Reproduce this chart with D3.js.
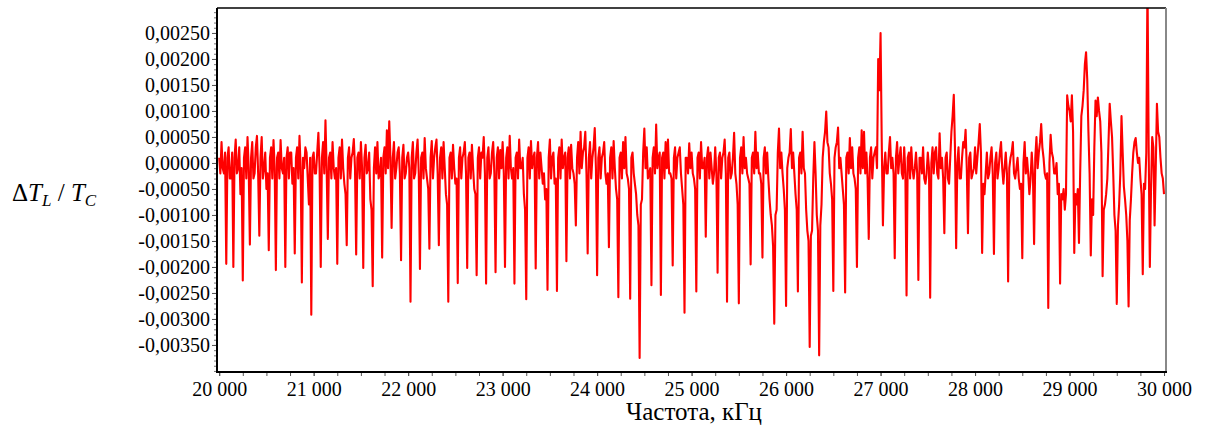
<!DOCTYPE html>
<meta charset="utf-8">

<!-- Load d3.js -->
<script src="https://d3js.org/d3.v7.min.js"></script>

<style>
  body { margin: 0; background: #fff; }
  text { font-family: "Liberation Serif", "Times New Roman", serif; fill: #000; }
</style>

<svg id="chart" width="1208" height="428"></svg>

<script>

// Spectrum sampled every 12.5 kHz from 20 000 kHz
const freqStart = 20000, freqStep = 12.5;

// dT_L / T_C, one array per 1000 kHz
const seg20 = [0.0001, -0.0002, 0.0004, -0.0001, -0.0002, 0.0002, -0.00194, 0.0001, 0.0003, -0.0003,
  -0.0003, 0.0002, -0.0020, 0.0001, 0.00045, -0.0002, -0.0001, 0.0003, -0.0006, -0.0001,
  -0.00226, 0.0001, 0.0003, -0.0003, 0.0005, -0.0001, -0.00157, 0.0001, 0.0004, -0.0003,
  -0.0002, 0.0003, 0.00052, -0.0002, -0.0014, 0.0001, 0.0005, -0.0003, -0.0001, 0.0002,
  -0.0005, -0.0002, -0.00168, 0.0001, 0.0003, -0.0003, 0.00044, -0.0001, -0.00206, 0.0001,
  0.0002, -0.0003, 0.00044, -0.0001, -0.0002, 0.0001, -0.0020, 0.0001, 0.0003, -0.0003,
  0.0002, 0.0002, -0.0004, -0.0001, -0.00174, 0.0001, 0.0003, -0.0003, 0.00052, -0.0001,
  -0.0023, 0.0001, -0.0001, 0.0003, 0.0002, -0.0003, -0.0008, 0.0001, -0.00292, 0.0001];
const seg21 = [0.0002, -0.0002, -0.0002, 0.0002, 0.00058, -0.0001, -0.0020, 0.0001, 0.0004, -0.0002,
  0.00082, -0.0001, -0.00146, 0.0001, 0.0002, -0.0003, 0.0004, -0.0001, -0.0003, -0.0001,
  -0.00194, 0.0001, 0.0003, -0.0003, 0.00045, -0.0001, -0.0004, -0.0006, -0.00158, 0.0001,
  0.0003, -0.0003, 0.0001, 0.0002, 0.00046, -0.0001, -0.00176, 0.0001, 0.0002, -0.0003,
  0.0004, -0.0001, -0.00202, 0.0001, 0.00035, -0.0002, -0.0001, 0.0002, -0.0007, -0.0009,
  -0.00237, -0.0001, 0.0003, -0.0002, 0.0004, -0.0003, -0.0002, 0.0001, -0.00182, 0.0001,
  0.0003, -0.0002, 0.00063, -0.0001, 0.0008, 0.0001, -0.00125, 0.0001, 0.0004, -0.0003,
  -0.0001, 0.0002, 0.0003, -0.0002, -0.00187, 0.0001, 0.00035, -0.0003, -0.0002, 0.0001];
const seg22 = [0.0002, -0.0001, -0.00267, 0.0001, 0.0004, -0.0003, -0.0002, 0.0002, 0.00045, -0.0002,
  -0.00204, 0.0001, 0.0002, -0.0003, 0.00048, -0.0001, -0.0003, -0.0005, -0.00165, 0.0001,
  0.00042, -0.0003, 0.0001, 0.0003, 0.00045, -0.0002, -0.00158, 0.0001, 0.0003, -0.0003,
  0.0004, -0.0001, -0.0006, -0.0008, -0.00267, 0.0001, 0.0002, -0.0003, 0.00035, -0.0001,
  -0.0004, -0.0003, -0.00231, 0.0001, 0.0003, -0.0003, 0.0001, 0.0002, 0.0004, -0.0002,
  -0.00202, 0.0001, 0.0002, -0.0003, 0.00035, -0.0001, -0.0005, -0.0006, -0.00216, 0.0001,
  0.0003, -0.0003, 0.0002, 0.0001, 0.0005, -0.0002, -0.00232, 0.0001, 0.0003, -0.0003,
  -0.0002, 0.0002, 0.0004, -0.0002, -0.0021, 0.0001, 0.0003, -0.0003, 0.00025, -0.0001];
const seg23 = [0.0004, -0.0002, -0.0020, 0.0001, 0.0003, -0.0003, 0.00052, -0.0001, -0.0003, -0.0001,
  -0.00232, 0.0001, 0.0002, -0.0003, 0.00045, -0.0001, -0.0001, 0.0001, -0.0006, -0.0009,
  -0.00262, 0.0001, 0.0003, -0.0003, 0.00042, -0.0001, 0.0001, 0.0002, -0.00203, 0.0001,
  0.0004, -0.0003, 0.0002, -0.0001, -0.0004, -0.0002, -0.0007, -0.0005, -0.00244, 0.0001,
  0.00045, -0.0003, 0.0001, 0.0002, -0.0004, -0.0003, -0.00246, 0.0001, 0.0003, -0.0003,
  0.00045, -0.0001, 0.0001, 0.0002, -0.00189, 0.0001, 0.0003, -0.0003, 0.00035, -0.0001,
  -0.0002, -0.0004, -0.0012, 0.0001, 0.0004, -0.0002, 0.0006, -0.0001, 0.0002, 0.0003,
  0.0006, -0.0002, -0.00174, 0.0001, 0.0004, -0.0003, 0.0001, 0.0003, 0.00067, -0.0001];
const seg24 = [-0.00216, 0.0001, 0.0003, -0.0003, 0.0001, 0.0002, 0.0004, -0.0002, -0.0004, -0.0002,
  -0.00162, 0.0001, 0.0003, -0.0003, 0.00042, -0.0001, -0.0005, -0.0007, -0.00258, 0.0001,
  0.0002, -0.0003, 0.0004, -0.0001, 0.0005, -0.0002, -0.0003, -0.0005, -0.00261, 0.0001,
  0.0002, -0.0002, -0.0004, -0.0006, -0.0010, -0.0012, -0.00375, -0.0008, -0.0007, 0.0002,
  0.00066, -0.0001, 0.0003, -0.0003, -0.0002, -0.0001, -0.00235, 0.0001, 0.0003, -0.0002,
  0.00074, -0.0001, 0.0001, 0.0002, -0.00254, 0.0001, 0.0002, -0.0003, 0.0004, -0.0001,
  0.00045, -0.0002, -0.0002, -0.0003, -0.00197, 0.0001, 0.0003, -0.0003, 0.0001, 0.0002,
  0.0003, -0.0002, -0.0005, -0.0008, -0.00288, 0.0001, 0.0001, -0.0002, 0.00038, -0.0001];
const seg25 = [0.0002, -0.0002, -0.0003, -0.0005, -0.00247, 0.0001, 0.0002, -0.0003, 0.0004, -0.0001,
  -0.0001, 0.0001, -0.00142, 0.0001, 0.0003, -0.0003, 0.0002, -0.0001, -0.0004, -0.0002,
  0.0003, -0.0002, -0.00211, 0.0001, 0.0002, -0.0003, 0.0001, 0.0002, 0.00045, -0.0002,
  -0.00267, 0.0001, 0.0002, -0.0003, -0.0002, 0.0001, 0.00058, -0.0002, -0.0004, -0.0008,
  -0.0027, 0.0001, 0.0003, -0.0002, 0.0005, -0.0001, 0.0001, -0.0002, -0.0003, -0.0004,
  -0.00195, 0.0001, 0.0002, -0.0002, 0.0006, -0.0001, 0.0002, -0.0002, -0.0002, -0.0004,
  -0.00182, 0.0001, 0.0003, -0.0002, 0.0002, -0.0003, -0.0007, -0.0010, -0.0012, -0.0016,
  -0.00309, -0.0010, -0.0009, 0.0002, 0.00066, -0.0001, 0.0002, -0.0002, -0.0005, -0.0009];
const seg26 = [-0.00275, -0.0001, 0.0001, 0.0002, 0.00065, -0.0001, 0.0002, -0.0002, -0.0006, -0.0009,
  -0.00247, 0.0001, 0.0002, -0.0002, 0.0006, -0.0001, -0.0002, -0.0009, -0.0013, -0.0015,
  -0.00354, -0.0014, -0.0013, -0.0003, 0.0004, -0.0002, -0.0010, -0.0013, -0.0037, -0.0012,
  -0.0008, 0.0001, 0.0004, 0.0006, 0.00099, 0.0004, 0.0003, -0.0002, -0.0004, -0.0007,
  -0.00246, 0.0001, 0.0003, 0.0004, 0.00068, -0.0001, 0.0001, -0.0002, -0.0005, -0.0008,
  -0.00249, 0.0001, 0.0002, -0.0002, 0.00048, -0.0001, 0.0003, -0.0002, -0.0003, -0.0005,
  -0.0020, 0.0001, 0.0003, -0.0002, 0.00063, -0.0001, 0.0006, -0.0002, 0.0002, -0.0003,
  -0.00146, 0.0001, 0.0003, -0.0003, 0.0001, 0.0002, 0.0003, -0.0001, 0.0020, 0.0014];
const seg27 = [0.0025, 0.0004, -0.0012, -0.0001, 0.0002, -0.0002, -0.0002, 0.0002, 0.0005, -0.0001,
  0.0001, -0.0002, -0.00183, 0.0001, 0.0004, -0.0002, 0.0001, 0.0003, -0.0002, -0.0003,
  0.0003, -0.0002, -0.00255, 0.0001, 0.0002, -0.0003, 0.0003, -0.0001, -0.0003, -0.0001,
  0.0002, -0.0002, -0.00225, 0.0001, 0.0001, -0.0002, 0.0003, -0.0003, -0.0004, -0.0002,
  0.0002, -0.0001, -0.00259, 0.0, 0.0003, -0.0002, 0.0002, 0.0003, -0.0002, -0.0003,
  0.00057, -0.0001, 0.0001, -0.0003, -0.00135, 0.0001, 0.0002, -0.0003, -0.0004, 0.0001,
  0.0006, 0.0009, 0.00131, 0.0003, -0.00164, 0.0, 0.0003, -0.0003, -0.0003, 0.0001,
  0.0004, 0.0003, 0.00064, -0.0001, -0.00135, 0.0001, 0.0002, -0.0003, -0.0002, -0.0001];
const seg28 = [0.0003, -0.0002, 0.0001, 0.0004, 0.00075, 0.0002, -0.00173, -0.0004, -0.0006, -0.0002,
  0.0002, -0.0003, -0.0002, 0.0001, 0.0003, -0.0002, -0.00175, 0.0, 0.0002, -0.0003,
  -0.0001, 0.0002, 0.0004, -0.0001, -0.0004, -0.0001, 0.0002, -0.0002, -0.00228, -0.0001,
  0.0001, 0.0002, 0.0004, -0.0002, -0.0003, -0.0001, 0.0001, -0.0003, -0.0005, -0.0004,
  -0.00183, 0.0, 0.0004, -0.0002, 0.0001, -0.0002, -0.0006, -0.0003, 0.0002, -0.0002,
  -0.00156, 0.0001, 0.0005, -0.0001, 0.0002, 0.0004, 0.00075, 0.0003, 0.0001, -0.0002,
  -0.0003, -0.0002, -0.00279, 0.0, 0.00054, 0.0002, 0.0001, -0.0002, -0.0002, 0.0,
  -0.0006, -0.0004, -0.00232, -0.0006, -0.0007, -0.0005, -0.0009, -0.0006, 0.0013, 0.0011];
const seg29 = [0.0010, 0.0008, 0.0013, 0.0006, -0.00173, -0.0006, -0.0008, -0.0005, -0.00154, -0.0002,
  0.0009, 0.0011, 0.0014, 0.0019, 0.00213, 0.0016, 0.0006, -0.0002, -0.00178, -0.0007,
  -0.0010, 0.0003, 0.0012, 0.0009, 0.00126, 0.0010, 0.0008, 0.0002, -0.00218, -0.0009,
  -0.0008, -0.0006, -0.0003, 0.0004, 0.00114, 0.0008, 0.0005, -0.0002, -0.0010, -0.0013,
  -0.00271, -0.0012, -0.0008, -0.0002, 0.0009, 0.0002, -0.00045, -0.0007, -0.0010, -0.0015,
  -0.00276, -0.0011, -0.0007, -0.0002, 0.0002, 0.0004, 0.00048, 0.0002, 0.0, 0.0001,
  -0.0003, -0.0006, -0.00214, -0.0004, -0.0005, 0.0002, 0.0035, 0.0003, -0.0020, -0.0005,
  0.0005, 0.0003, -0.0012, -0.0001, 0.00114, 0.0006, 0.0005, 0.0001, -0.0002, -0.0003,
  -0.0006];

const yTicks = [-0.0035, -0.003, -0.0025, -0.002, -0.0015, -0.001, -0.0005, 0, 0.0005, 0.001, 0.0015, 0.002, 0.0025];
const xTicks = [20000, 21000, 22000, 23000, 24000, 25000, 26000, 27000, 28000, 29000, 30000];

const svg = d3.select("#chart");

// plot frame
const pLeft = 217, pRight = 1166, pTop = 8, pBottom = 372;

const x = d3.scaleLinear().domain([19977, 30021]).range([pLeft, pRight]);
const y = d3.scaleLinear().domain([-0.00402, 0.00298]).range([pBottom, pTop]);

const values = [].concat(seg20, seg21, seg22, seg23, seg24, seg25, seg26, seg27, seg28, seg29);
const data = values.map((v, i) => ({ f: freqStart + i * freqStep, v: v }));

// clip the trace to the frame
svg.append("clipPath").attr("id", "plotclip")
  .append("rect")
  .attr("x", pLeft).attr("y", pTop)
  .attr("width", pRight - pLeft).attr("height", pBottom - pTop);

const line = d3.line()
  .x(d => x(d.f))
  .y(d => y(d.v));

svg.append("path")
  .datum(data)
  .attr("clip-path", "url(#plotclip)")
  .attr("fill", "none")
  .attr("stroke", "#ff0000")
  .attr("stroke-width", 2.1)
  .attr("stroke-linejoin", "round")
  .attr("d", line);

// y axis, minor then major ticks
const fmtY = d => d3.format(".5f")(d).replace("−", "-").replace(".", ",");

svg.append("g")
  .attr("transform", `translate(${pLeft},0)`)
  .call(d3.axisLeft(y).tickValues(d3.range(-40, 30).map(k => k / 10000)).tickSize(3).tickFormat(""))
  .call(g => g.select(".domain").remove())
  .call(g => g.selectAll("line").attr("stroke", "#777"));

svg.append("g")
  .attr("transform", `translate(${pLeft},0)`)
  .call(d3.axisLeft(y).tickValues(yTicks).tickSizeInner(5).tickSizeOuter(0).tickPadding(2).tickFormat(fmtY))
  .call(g => g.select(".domain").remove())
  .call(g => g.selectAll("line").attr("stroke", "#555"))
  .call(g => g.selectAll("text").attr("font-size", 20)
    .style("font-family", '"Liberation Serif", "Times New Roman", serif'));

// x axis
svg.append("g")
  .attr("transform", `translate(0,${pBottom})`)
  .call(d3.axisBottom(x).tickValues(d3.range(20000, 30001, 250)).tickSize(4).tickFormat(""))
  .call(g => g.select(".domain").remove())
  .call(g => g.selectAll("line").attr("stroke", "#555"));

svg.append("g")
  .attr("transform", `translate(0,${pBottom})`)
  .call(d3.axisBottom(x).tickValues(xTicks).tickSize(4).tickPadding(6)
    .tickFormat(d => d3.format(",")(d).replace(",", " ")))
  .call(g => g.select(".domain").remove())
  .call(g => g.selectAll("line").attr("stroke", "#555"))
  .call(g => g.selectAll("text").attr("font-size", 20)
    .style("font-family", '"Liberation Serif", "Times New Roman", serif'));

// frame lines
svg.append("line").attr("x1", pLeft).attr("x2", pRight).attr("y1", pTop).attr("y2", pTop)
  .attr("stroke", "#000").attr("stroke-width", 1.5);
svg.append("line").attr("x1", pRight).attr("x2", pRight).attr("y1", pTop).attr("y2", pBottom)
  .attr("stroke", "#888").attr("stroke-width", 2);
svg.append("line").attr("x1", pLeft).attr("x2", pLeft).attr("y1", pTop).attr("y2", pBottom + 1)
  .attr("stroke", "#000").attr("stroke-width", 2);
svg.append("line").attr("x1", pLeft).attr("x2", pRight + 1).attr("y1", pBottom).attr("y2", pBottom)
  .attr("stroke", "#000").attr("stroke-width", 2);

// axis titles
svg.append("text")
  .attr("x", 694).attr("y", 420)
  .attr("text-anchor", "middle")
  .attr("font-size", 25)
  .text("Частота, кГц");

const yTitle = svg.append("text")
  .attr("x", 12).attr("y", 201)
  .attr("font-size", 25);
yTitle.append("tspan").text("Δ");
yTitle.append("tspan").attr("font-style", "italic").text("T");
yTitle.append("tspan").attr("font-style", "italic").attr("font-size", 17).attr("dy", 5).text("L");
yTitle.append("tspan").attr("dy", -5).text(" / ");
yTitle.append("tspan").attr("font-style", "italic").text("T");
yTitle.append("tspan").attr("font-style", "italic").attr("font-size", 17).attr("dy", 5).text("C");

</script>
